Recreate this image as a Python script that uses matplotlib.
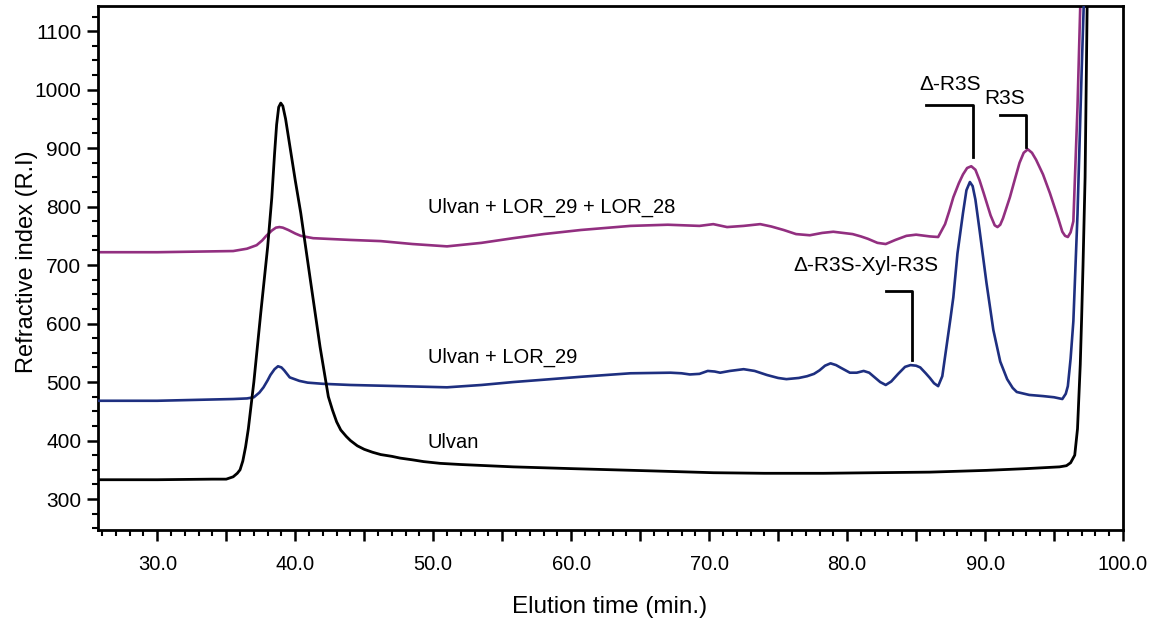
import matplotlib.pyplot as plt
from matplotlib.ticker import MultipleLocator, FuncFormatter

plt.rcParams['font.family'] = ['Liberation Sans', 'DejaVu Sans']

# Ulvan (black)
ulvan_t = [25.7, 30, 34, 35.0, 35.5, 35.8, 36.0, 36.2, 36.4, 36.6, 36.8, 37.0, 37.5, 38.0,
           38.3, 38.5, 38.65, 38.8, 38.95, 39.1, 39.3, 39.6, 40.0, 40.4, 41.1, 41.8, 42.4, 42.7,
           43.0, 43.3, 43.7, 44.0, 44.5, 45.0, 45.6, 46.2, 47.0, 47.6, 48.5, 49.3, 50.5,
           52, 55.8, 60, 63.0, 66, 70.3, 74, 78.3, 82, 86, 90.1, 93, 95.4, 95.9, 96.2,
           96.5, 96.7, 96.9, 97.0, 97.1, 97.25, 97.4, 97.5]
ulvan_ri = [333, 333, 334, 334, 338, 344, 350, 365, 389, 420, 460, 500, 618, 731,
            815, 890, 940, 970, 977, 972, 950, 905, 845, 789, 674, 560, 475, 452,
            432, 418, 407, 400, 391, 385, 380, 376, 373, 370, 367, 364, 361,
            359, 355, 352, 350, 348, 345, 344, 344, 345, 346, 349, 352, 355, 357, 362,
            375, 420, 530, 610, 700, 850, 1143, 1200]

# Ulvan + LOR_29 (blue)
lor29_t = [25.7, 30, 35.5, 36.5, 37.0, 37.4, 37.7, 38.0, 38.2, 38.5, 38.75, 39.0, 39.2,
           39.6, 40.3, 40.9, 42.0, 44, 47.6, 51.0, 53.5, 55.8, 58, 60.7, 64.3, 67.2,
           68.0, 68.6, 69.3, 69.9, 70.4, 70.8, 71.5, 72.5, 73.3, 74.2, 75.0, 75.6, 76.5,
           77.1, 77.6, 78.0, 78.4, 78.8, 79.2, 79.5, 80.2, 80.7, 81.2, 81.6, 82.0, 82.4,
           82.8, 83.2, 83.7, 84.2, 84.6, 85.0, 85.3, 85.7, 86.0, 86.3, 86.6, 86.9, 87.2,
           87.5, 87.7, 88.0, 88.4, 88.65, 88.9, 89.1, 89.3, 89.6, 90.1, 90.6, 91.1, 91.6,
           92.0, 92.3, 93.2, 94.2, 95.0, 95.6, 95.85, 96.0, 96.2, 96.4, 96.7, 97.0,
           97.15, 97.2]
lor29_ri = [468, 468, 471, 472, 474, 482, 491, 503, 512, 522, 527, 525, 520,
            508, 502, 499, 497, 495, 493, 491, 495, 500, 504, 509, 515, 516,
            515, 513, 514, 519, 518, 516, 519, 522, 519, 512, 507, 505, 507,
            510, 514, 520, 528, 532, 529, 525, 516, 516, 519, 516, 508, 500,
            495, 501, 514, 526, 529, 528, 525, 515, 507, 498, 493, 510, 560,
            610, 645, 720, 789, 828, 842, 835, 812, 760, 670, 589, 535, 505,
            490, 483, 478, 476, 474, 471, 480, 493, 540, 604, 787, 1031,
            1143, 1200]

# Ulvan + LOR_29 + LOR_28 (magenta)
lor28_t = [25.7, 30, 35.5, 36.5, 37.2, 37.6, 37.9, 38.3, 38.6, 38.85, 39.1, 39.5, 40.0,
           40.4, 41.3, 44, 46.2, 48.5, 51.0, 53.5, 55.8, 58, 60.7, 64.3, 67, 69.3,
           70.3, 71.3, 72.5, 73.7, 74.5, 75.4, 76.3, 77.3, 78.2, 79.0, 79.7, 80.4, 81.0,
           81.5, 82.2, 82.8, 83.5, 84.3, 85.0, 86.0, 86.6, 87.1, 87.4, 87.7, 88.1, 88.4,
           88.7, 89.0, 89.3, 89.6, 89.9, 90.4, 90.7, 90.9, 91.1, 91.3, 91.8, 92.2, 92.5,
           92.8, 93.1, 93.4, 93.7, 94.2, 94.7, 95.3, 95.6, 95.8, 96.0, 96.2, 96.4, 96.7,
           96.9, 97.0]
lor28_ri = [722, 722, 724, 728, 734, 742, 750, 759, 764, 765, 764, 760, 754,
            750, 746, 743, 741, 736, 732, 738, 746, 753, 760, 767, 769, 767,
            770, 765, 767, 770, 766, 760, 753, 751, 755, 757, 755, 753, 749,
            745, 738, 736, 743, 750, 752, 749, 748, 770, 792, 816, 840, 855,
            866, 869, 863, 845, 823, 785, 768, 765, 769, 780, 816, 850, 875,
            892, 898, 892, 880, 855, 823, 780, 757, 750, 748, 756, 775, 970,
            1143, 1200]

fig = plt.figure(figsize=(11.51, 6.24), dpi=100)
ax = fig.add_axes([0.0851, 0.1506, 0.8906, 0.8398])

ax.plot(lor28_t, lor28_ri, color='#922f80', lw=1.9, zorder=2)
ax.plot(lor29_t, lor29_ri, color='#1e2f80', lw=1.9, zorder=3)
ax.plot(ulvan_t, ulvan_ri, color='black', lw=2.0, zorder=4)

ax.set_xlim(25.7, 100)
ax.set_ylim(247, 1143)

ax.xaxis.set_major_locator(MultipleLocator(5))
ax.xaxis.set_minor_locator(MultipleLocator(1))
ax.xaxis.set_major_formatter(FuncFormatter(lambda v, p: '%.1f' % v if abs(v % 10) < 1e-6 else ''))
ax.yaxis.set_major_locator(MultipleLocator(100))
ax.yaxis.set_minor_locator(MultipleLocator(25))

ax.tick_params(which='major', direction='out', length=8, width=1.8, labelsize=14.5)
ax.tick_params(axis='x', which='major', pad=10)
ax.tick_params(axis='y', which='major', pad=4, labelsize=15)
ax.tick_params(which='minor', direction='out', length=4.5, width=1.5)
for s in ax.spines.values():
    s.set_linewidth(2.0)

ax.set_xlabel('Elution time (min.)', fontsize=17.5)
ax.set_ylabel('Refractive index (R.I)', fontsize=17)
ax.xaxis.set_label_coords(0.4995, -0.125)
ax.yaxis.set_label_coords(-0.058, 0.513)

# curve labels
ax.text(49.6, 799, 'Ulvan + LOR_29 + LOR_28', fontsize=14.5, va='center', ha='left')
ax.text(49.6, 543, 'Ulvan + LOR_29', fontsize=14.5, va='center', ha='left')
ax.text(49.6, 397, 'Ulvan', fontsize=14.5, va='center', ha='left')

# peak annotations
ax.text(81.4, 700, '\u0394-R3S-Xyl-R3S', fontsize=15, va='center', ha='center')
ax.plot([82.8, 84.7, 84.7], [656, 656, 538], color='black', lw=2.0)

ax.text(87.5, 1008, '\u0394-R3S', fontsize=15, va='center', ha='center')
ax.plot([85.7, 89.1, 89.1], [973, 973, 885], color='black', lw=2.0)

ax.text(91.4, 985, 'R3S', fontsize=15, va='center', ha='center')
ax.plot([91.1, 93.0, 93.0], [956, 956, 902], color='black', lw=2.0)

fig.savefig('out.png', dpi=100)
